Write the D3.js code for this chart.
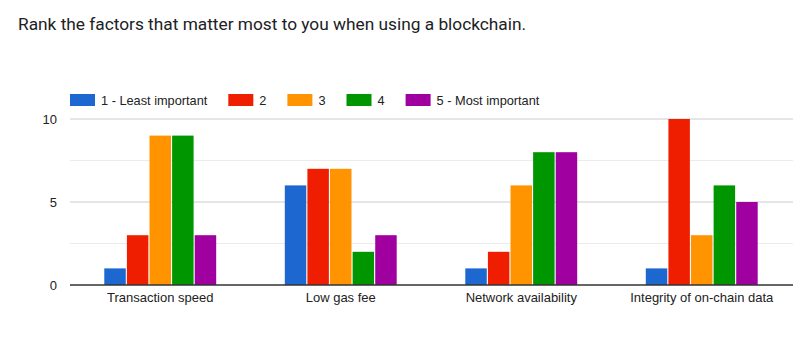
<!DOCTYPE html>
<html><head><meta charset="utf-8">
<script src="https://cdn.jsdelivr.net/npm/d3@7"></script>
<style>body{margin:0;background:#fff;}svg{display:block;}</style>
</head><body>
<svg id="chart" width="800" height="355"></svg>
<script>
const categories = ["Transaction speed", "Low gas fee", "Network availability", "Integrity of on-chain data"];
const seriesNames = ["1 - Least important", "2", "3", "4", "5 - Most important"];
const rank1 = [1, 6, 1, 1];
const rank2 = [3, 7, 2, 10];
const rank3 = [9, 7, 6, 3];
const rank4 = [9, 2, 8, 6];
const rank5 = [3, 3, 8, 5];
const yTicks = [0, 5, 10];
const yMinorTicks = [2.5, 7.5];
const colors = ["#1c68d0", "#f01e00", "#ff9400", "#009600", "#a0009f"];
const title = "Rank the factors that matter most to you when using a blockchain.";

const series = [rank1, rank2, rank3, rank4, rank5];
const svg = d3.select("#chart");
const chartFont = "'Liberation Sans', Arial, sans-serif";

svg.append("text").attr("x", 18).attr("y", 30)
  .attr("font-family", "Roboto, 'Liberation Sans', Arial, sans-serif")
  .attr("font-size", 17.3).attr("fill", "#202124").text(title);

const x0 = d3.scaleBand().domain(categories).range([70, 792]).paddingInner(0.38).paddingOuter(0.19);
const x1 = d3.scaleBand().domain(d3.range(series.length)).range([0, x0.bandwidth()]).paddingInner(0.05);
const y = d3.scaleLinear().domain([0, 10]).range([285, 119]);

// gridlines
svg.append("g").selectAll("line").data(yMinorTicks).join("line")
  .attr("x1", 70).attr("x2", 793).attr("y1", d => y(d)).attr("y2", d => y(d))
  .attr("stroke", "#ebebeb").attr("stroke-width", 1);
svg.append("g").selectAll("line").data(yTicks.filter(d => d !== 0)).join("line")
  .attr("x1", 70).attr("x2", 793).attr("y1", d => y(d)).attr("y2", d => y(d))
  .attr("stroke", "#cccccc").attr("stroke-width", 1);

// y axis labels
const yAxis = d3.axisLeft(y).tickValues(yTicks).tickSize(0).tickPadding(0).tickFormat(d3.format("d"));
const gy = svg.append("g").attr("transform", "translate(57,0)").call(yAxis);
gy.select(".domain").remove();
gy.selectAll("text").attr("font-family", chartFont).attr("font-size", 13).attr("fill", "#222");

// bars
const groups = svg.append("g").selectAll("g").data(categories).join("g")
  .attr("transform", d => `translate(${x0(d)},0)`);
groups.selectAll("rect").data((c, ci) => series.map((s, si) => ({si, v: s[ci]}))).join("rect")
  .attr("x", d => x1(d.si)).attr("width", x1.bandwidth())
  .attr("y", d => y(d.v)).attr("height", d => y(0) - y(d.v))
  .attr("fill", d => colors[d.si]);

// baseline
svg.append("line").attr("x1", 70).attr("x2", 793).attr("y1", y(0)).attr("y2", y(0))
  .attr("stroke", "#333").attr("stroke-width", 1.5);

// x axis labels
const xAxis = d3.axisBottom(x0).tickSize(0).tickPadding(0);
const gx = svg.append("g").attr("transform", `translate(0,${y(0) + 8})`).call(xAxis);
gx.select(".domain").remove();
gx.selectAll("text").attr("font-family", chartFont).attr("font-size", 13).attr("fill", "#222").attr("dy", "0.71em");

// legend
const legend = svg.append("g").attr("font-family", chartFont).attr("font-size", 12.75);
let lx = 70;
seriesNames.forEach((name, i) => {
  legend.append("rect").attr("x", lx).attr("y", 94).attr("width", 25).attr("height", 12).attr("fill", colors[i]);
  const t = legend.append("text").attr("x", lx + 31).attr("y", 105).attr("fill", "#222").text(name);
  const w = t.node().getComputedTextLength();
  lx += 31 + w + 21;
});
</script>
</body></html>
